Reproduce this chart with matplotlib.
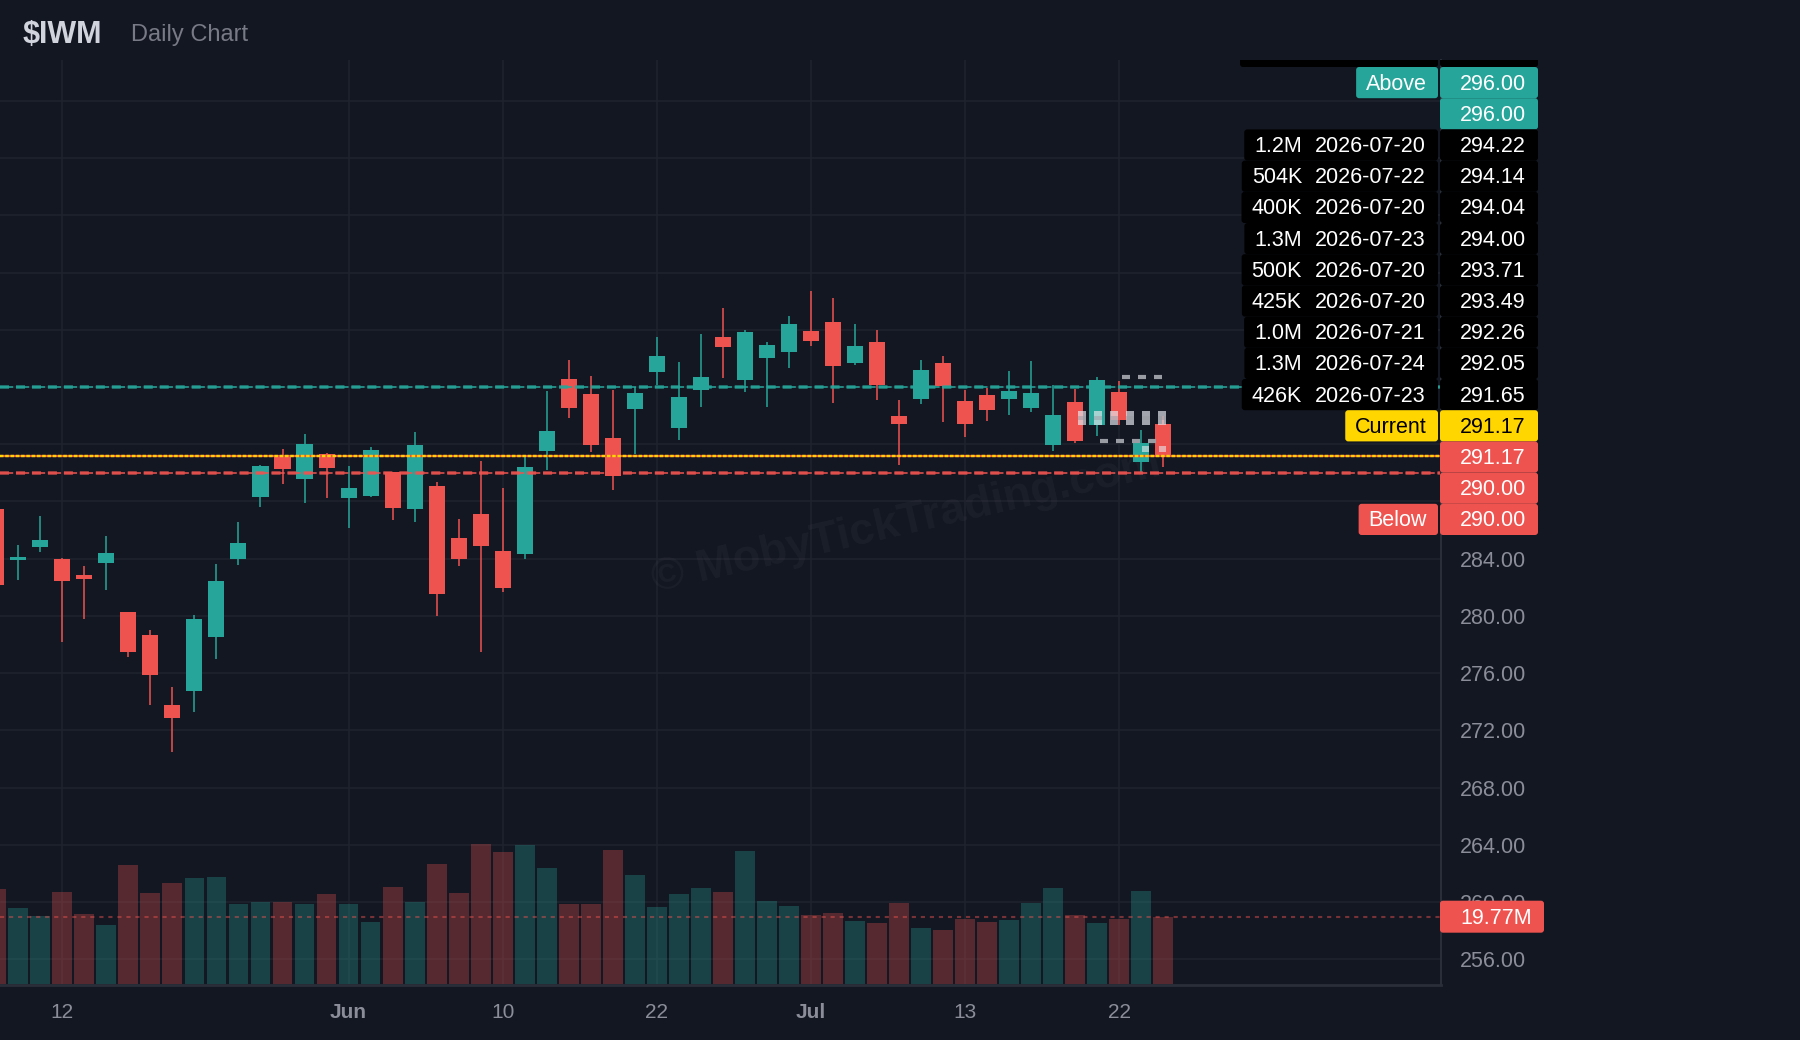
import numpy as np
import pandas as pd
import matplotlib
matplotlib.use("Agg")
import matplotlib.pyplot as plt
import matplotlib.transforms as mtransforms
from matplotlib.patches import Rectangle, FancyBboxPatch

plt.rcParams['font.family'] = ['Liberation Sans', 'DejaVu Sans']
plt.rcParams['lines.scale_dashes'] = False

BG = '#131722'
UP = '#26a69a'
DOWN = '#ef5350'
YELLOW = '#ffd600'
GRID = '#1f232e'
AXIS = '#2a2e39'
TXT = '#8b8e98'

# --- data: daily $IWM candles, 2026-05-07 .. 2026-07-24 ---
holidays = ['2026-05-25', '2026-06-19', '2026-07-03']
dates = pd.bdate_range('2026-05-07', '2026-07-24')
dates = dates[~dates.isin(pd.to_datetime(holidays))]

opens = [287.47, 283.93, 284.84, 283.98, 282.86, 283.70, 280.27, 278.66, 273.77, 274.75,
         278.52, 283.98, 288.31, 291.11, 289.57, 291.32, 288.24, 288.38, 290.06, 287.47,
         289.08, 285.45, 287.12, 284.54, 284.33, 291.53, 296.56, 295.52, 292.44, 294.47,
         297.05, 293.14, 295.80, 299.50, 296.49, 298.03, 298.45, 299.92, 300.55, 297.68,
         299.15, 293.98, 295.17, 297.68, 295.03, 295.45, 295.17, 294.54, 291.95, 294.96,
         293.35, 295.66, 290.76, 293.42]
highs = [288.20, 284.93, 286.98, 284.05, 283.49, 285.59, 280.30, 279.01, 275.03, 280.06,
         283.63, 286.56, 290.55, 291.67, 292.72, 291.39, 290.48, 291.81, 290.06, 292.86,
         289.36, 286.77, 290.83, 288.94, 291.11, 295.72, 297.89, 296.77, 295.80, 296.00,
         299.50, 297.75, 299.71, 301.53, 299.99, 299.15, 300.97, 302.72, 302.23, 300.41,
         299.99, 295.10, 297.89, 298.17, 295.80, 295.93, 297.12, 297.82, 296.14, 295.86,
         296.70, 296.42, 293.00, 293.98]
lows = [281.60, 282.51, 284.47, 278.20, 279.78, 281.81, 277.12, 273.77, 270.50, 273.28,
        276.98, 283.56, 287.61, 289.22, 287.89, 288.24, 286.14, 288.31, 286.70, 286.56,
        279.99, 283.49, 277.47, 281.67, 283.98, 290.20, 293.84, 291.46, 288.80, 291.32,
        296.14, 292.30, 294.61, 296.63, 295.66, 294.61, 297.33, 298.87, 294.89, 297.54,
        295.10, 290.55, 294.82, 293.56, 292.51, 293.63, 294.05, 294.26, 291.53, 292.09,
        292.58, 293.35, 290.06, 290.41]
closes = [282.16, 284.12, 285.31, 282.44, 282.58, 284.40, 277.47, 275.86, 272.86, 279.78,
          282.44, 285.10, 290.48, 290.27, 292.02, 290.34, 288.94, 291.60, 287.54, 291.95,
          281.53, 283.98, 284.89, 281.95, 290.41, 292.93, 294.54, 291.95, 289.78, 295.59,
          298.17, 295.31, 296.70, 298.80, 299.85, 298.94, 300.41, 299.22, 297.47, 298.87,
          296.14, 293.42, 297.19, 296.07, 293.42, 294.40, 295.73, 295.59, 294.05, 292.23,
          296.49, 293.70, 292.09, 291.17]
volumes_m = [28.00, 22.35, 19.97, 27.12, 20.57, 17.29, 34.87, 26.82, 29.80, 31.00,
             31.29, 23.55, 24.14, 24.14, 23.55, 26.53, 23.55, 18.18, 28.61, 24.14,
             35.17, 26.82, 41.13, 38.75, 40.83, 33.98, 23.55, 23.55, 39.34, 31.89,
             22.65, 26.53, 28.31, 27.12, 39.04, 24.44, 22.95, 20.27, 20.86, 18.48,
             17.88, 23.84, 16.39, 15.80, 19.07, 18.18, 18.78, 23.84, 28.31, 20.27,
             17.88, 19.07, 27.42, 19.77]

tick_dates = ['2026-05-12', '2026-06-01', '2026-06-10', '2026-06-22', '2026-07-01', '2026-07-13', '2026-07-22']
tick_labels = ['12', 'Jun', '10', '22', 'Jul', '13', '22']
tick_bold = [False, True, False, False, True, False, False]

grid_prices = list(range(256, 320, 4))
price_ticks = [284, 280, 276, 272, 268, 264, 260, 256]

above_level = 296.00
below_level = 290.00
current_price = 291.17

# right-hand level tags
tag_text = ['Above', '', '1.2M', '504K', '400K', '1.3M', '500K', '425K', '1.0M', '1.3M', '426K',
            'Current', '', '', 'Below']
tag_date = ['', '', '2026-07-20', '2026-07-22', '2026-07-20', '2026-07-23', '2026-07-20',
            '2026-07-20', '2026-07-21', '2026-07-24', '2026-07-23', '', '', '', '']
tag_price = [296.00, 296.00, 294.22, 294.14, 294.04, 294.00, 293.71, 293.49, 292.26, 292.05,
             291.65, 291.17, 291.17, 290.00, 290.00]
tag_kind = ['above', 'above'] + ['order'] * 9 + ['current', 'last', 'below', 'below']

# small order markers near the last candles (x in bar positions)
dash_hi_price = 296.70
dash_hi_x = [51.29, 52.02, 52.75]
dash_lo_price = 292.25
dash_lo_x = [50.29, 51.02, 51.75, 52.48]
ghost_price = 293.85
ghost_x = [49.29, 50.02, 50.75, 51.48, 52.21, 52.93]
ghost_small_price = 291.67
ghost_small_x = [52.20, 52.95]

# --- figure ---
W, H = 1800, 1040
fig = plt.figure(figsize=(W / 100, H / 100), dpi=100, facecolor=BG)
L, R, T, B = 0, 1441, 60, 984
rect = [L / W, 1 - B / H, (R - L) / W, (B - T) / H]

vax = fig.add_axes(rect, facecolor=BG)
ax = fig.add_axes(rect, facecolor='none')
ov = fig.add_axes([0, 0, 1, 1], facecolor='none')
ov.set_xlim(0, W)
ov.set_ylim(H, 0)
ov.axis('off')

x = np.arange(len(dates))
pos = {d.strftime('%Y-%m-%d'): i for i, d in enumerate(dates)}
xlim = (0.171, 65.61)
for a in (ax, vax):
    a.set_xlim(*xlim)
    a.set_xticks([])
    a.set_yticks([])
    for s in a.spines.values():
        s.set_visible(False)
ax.set_ylim(254.26, 318.87)
vax.set_ylim(0, 271.4)

# grid
for g in grid_prices:
    vax.axhline(271.4 * (g - 254.26) / (318.87 - 254.26), color=GRID, lw=1.1, zorder=0)
for d in tick_dates:
    vax.axvline(pos[d], color=GRID, lw=1.1, zorder=0)

# volume
opens_a, closes_a = np.array(opens), np.array(closes)
up = closes_a >= opens_a
vcol = [UP if u else DOWN for u in up]
vax.bar(x, volumes_m, width=0.9, color=vcol, alpha=0.3, zorder=2, linewidth=0)
vax.axhline(volumes_m[-1], color=DOWN, alpha=0.45, lw=1.5, dashes=(3, 3.5), zorder=3)

# candles
ax.vlines(x, lows, highs, colors=vcol, lw=1.1, zorder=3)
body = np.maximum(np.abs(closes_a - opens_a), 0.12)
ax.bar(x, body, bottom=np.minimum(opens_a, closes_a), width=0.73, color=vcol, zorder=4, linewidth=0)

# level lines
ax.axhline(above_level, color=UP, lw=2.6, alpha=0.75, dashes=(6.5, 5), zorder=5)
ax.axhline(above_level, color=UP, lw=1.1, dashes=(9.5, 2), zorder=5)
ax.axhline(below_level, color=DOWN, lw=2.6, alpha=0.75, dashes=(6.5, 5), zorder=5)
ax.axhline(below_level, color=DOWN, lw=1.1, dashes=(9.5, 2), zorder=5)
ax.axhline(current_price, color=DOWN, lw=1.6, zorder=5)
ax.axhline(current_price, color=YELLOW, lw=1.7, dashes=(2.5, 1.3), zorder=6)

# order markers
for xc in dash_hi_x:
    ax.plot([xc - 0.18, xc + 0.18], [dash_hi_price] * 2, color='#9a9ca4', lw=3, solid_capstyle='butt', zorder=7)
for xc in dash_lo_x:
    ax.plot([xc - 0.18, xc + 0.18], [dash_lo_price] * 2, color='#9a9ca4', lw=3, solid_capstyle='butt', zorder=7)
for xc in ghost_x:
    ax.add_patch(Rectangle((xc - 0.18, ghost_price - 0.49), 0.36, 0.98, facecolor='#e6e8ee', alpha=0.68, lw=0, zorder=7))
    ax.add_patch(Rectangle((xc - 0.18, ghost_price - 0.12), 0.36, 0.24, facecolor='#9a9ca4', alpha=0.5, lw=0, zorder=7))
for xc in ghost_small_x:
    ax.add_patch(Rectangle((xc - 0.16, ghost_small_price - 0.2), 0.32, 0.4, facecolor='#e6e8ee', alpha=0.6, lw=0, zorder=7))

# watermark
ax.text(0.629, 0.5, '\u00a9 MobyTickTrading.com', transform=ax.transAxes, rotation=13, ha='center', va='center',
        fontsize=32.5, fontweight='bold', color='white', alpha=0.035, zorder=1)

# plot border
ov.plot([R, R], [T, B], color=AXIS, lw=1.5, zorder=1)
ov.plot([L, R], [B + 1, B + 1], color=AXIS, lw=2, zorder=1)

# x labels
xtr = mtransforms.blended_transform_factory(ax.transData, ov.transData)
for d, lab, b in zip(tick_dates, tick_labels, tick_bold):
    fig.text(pos[d], 1011, lab, transform=xtr, ha='center', va='center_baseline', fontsize=15,
             color=TXT, fontweight='bold' if b else 'normal')

# price axis labels
ytr = mtransforms.blended_transform_factory(ov.transData, ax.transData)
for p in price_ticks:
    ov.text(1460, p, f'{p:.2f}', transform=ytr, ha='left', va='center_baseline', fontsize=15.5, color=TXT, zorder=2)

# title
fig.text(23 / W, 1 - 31.5 / H, '$IWM', fontsize=22, fontweight='bold', color='#d1d4dc', va='center_baseline')
fig.text(131 / W, 1 - 32 / H, 'Daily Chart', fontsize=17, color='#787b86', va='center_baseline')

# right-hand tags
clip = Rectangle((0, T), W, H - T, transform=ov.transData)
renderer = fig.canvas.get_renderer()
ROW_H = 31.2
TOP0 = 67
styles = {'above': (UP, 'white'), 'order': ('black', 'white'), 'current': (YELLOW, 'black'),
          'last': (DOWN, 'white'), 'below': (DOWN, 'white')}


def box(x0, x1, top, fc):
    p = FancyBboxPatch((x0, top), x1 - x0, ROW_H, boxstyle='round,pad=0,rounding_size=3',
                       fc=fc, ec='none', zorder=8)
    ov.add_patch(p)
    p.set_clip_path(clip)


# clipped row above the visible stack
box(1240, 1438, TOP0 - ROW_H, 'black')
box(1440, 1538, TOP0 - ROW_H, 'black')

for k, (tt, td, tp, kind) in enumerate(zip(tag_text, tag_date, tag_price, tag_kind)):
    top = TOP0 + k * ROW_H
    cy = top + ROW_H / 2 - 1
    fc, fg = styles[kind]
    box(1440, 1538, top, fc)
    ov.text(1460, cy, f'{tp:.2f}', ha='left', va='center_baseline', fontsize=15.5, color=fg, zorder=9)
    if tt:
        if td:
            t1 = ov.text(1302, cy, tt, ha='right', va='center_baseline', fontsize=15.5, color=fg, zorder=9)
            ov.text(1426, cy, td, ha='right', va='center_baseline', fontsize=15.5, color=fg, zorder=9)
        else:
            t1 = ov.text(1427, cy, tt, ha='right', va='center_baseline', fontsize=15.5, color=fg, zorder=9)
        x0 = t1.get_window_extent(renderer).x0 - 10
        box(x0, 1438, top, fc)

# volume tag
vy = ov.transData.inverted().transform(vax.transData.transform((0, volumes_m[-1])))[1]
p = FancyBboxPatch((1440, vy - 16), 104, 32, boxstyle='round,pad=0,rounding_size=3', fc=DOWN, ec='none', zorder=8)
ov.add_patch(p)
ov.text(1460, vy - 1, f'{volumes_m[-1]:.2f}M', ha='left', va='center_baseline', fontsize=15.5, color='white', zorder=9)

fig.savefig('out.png', dpi=100, facecolor=BG)
